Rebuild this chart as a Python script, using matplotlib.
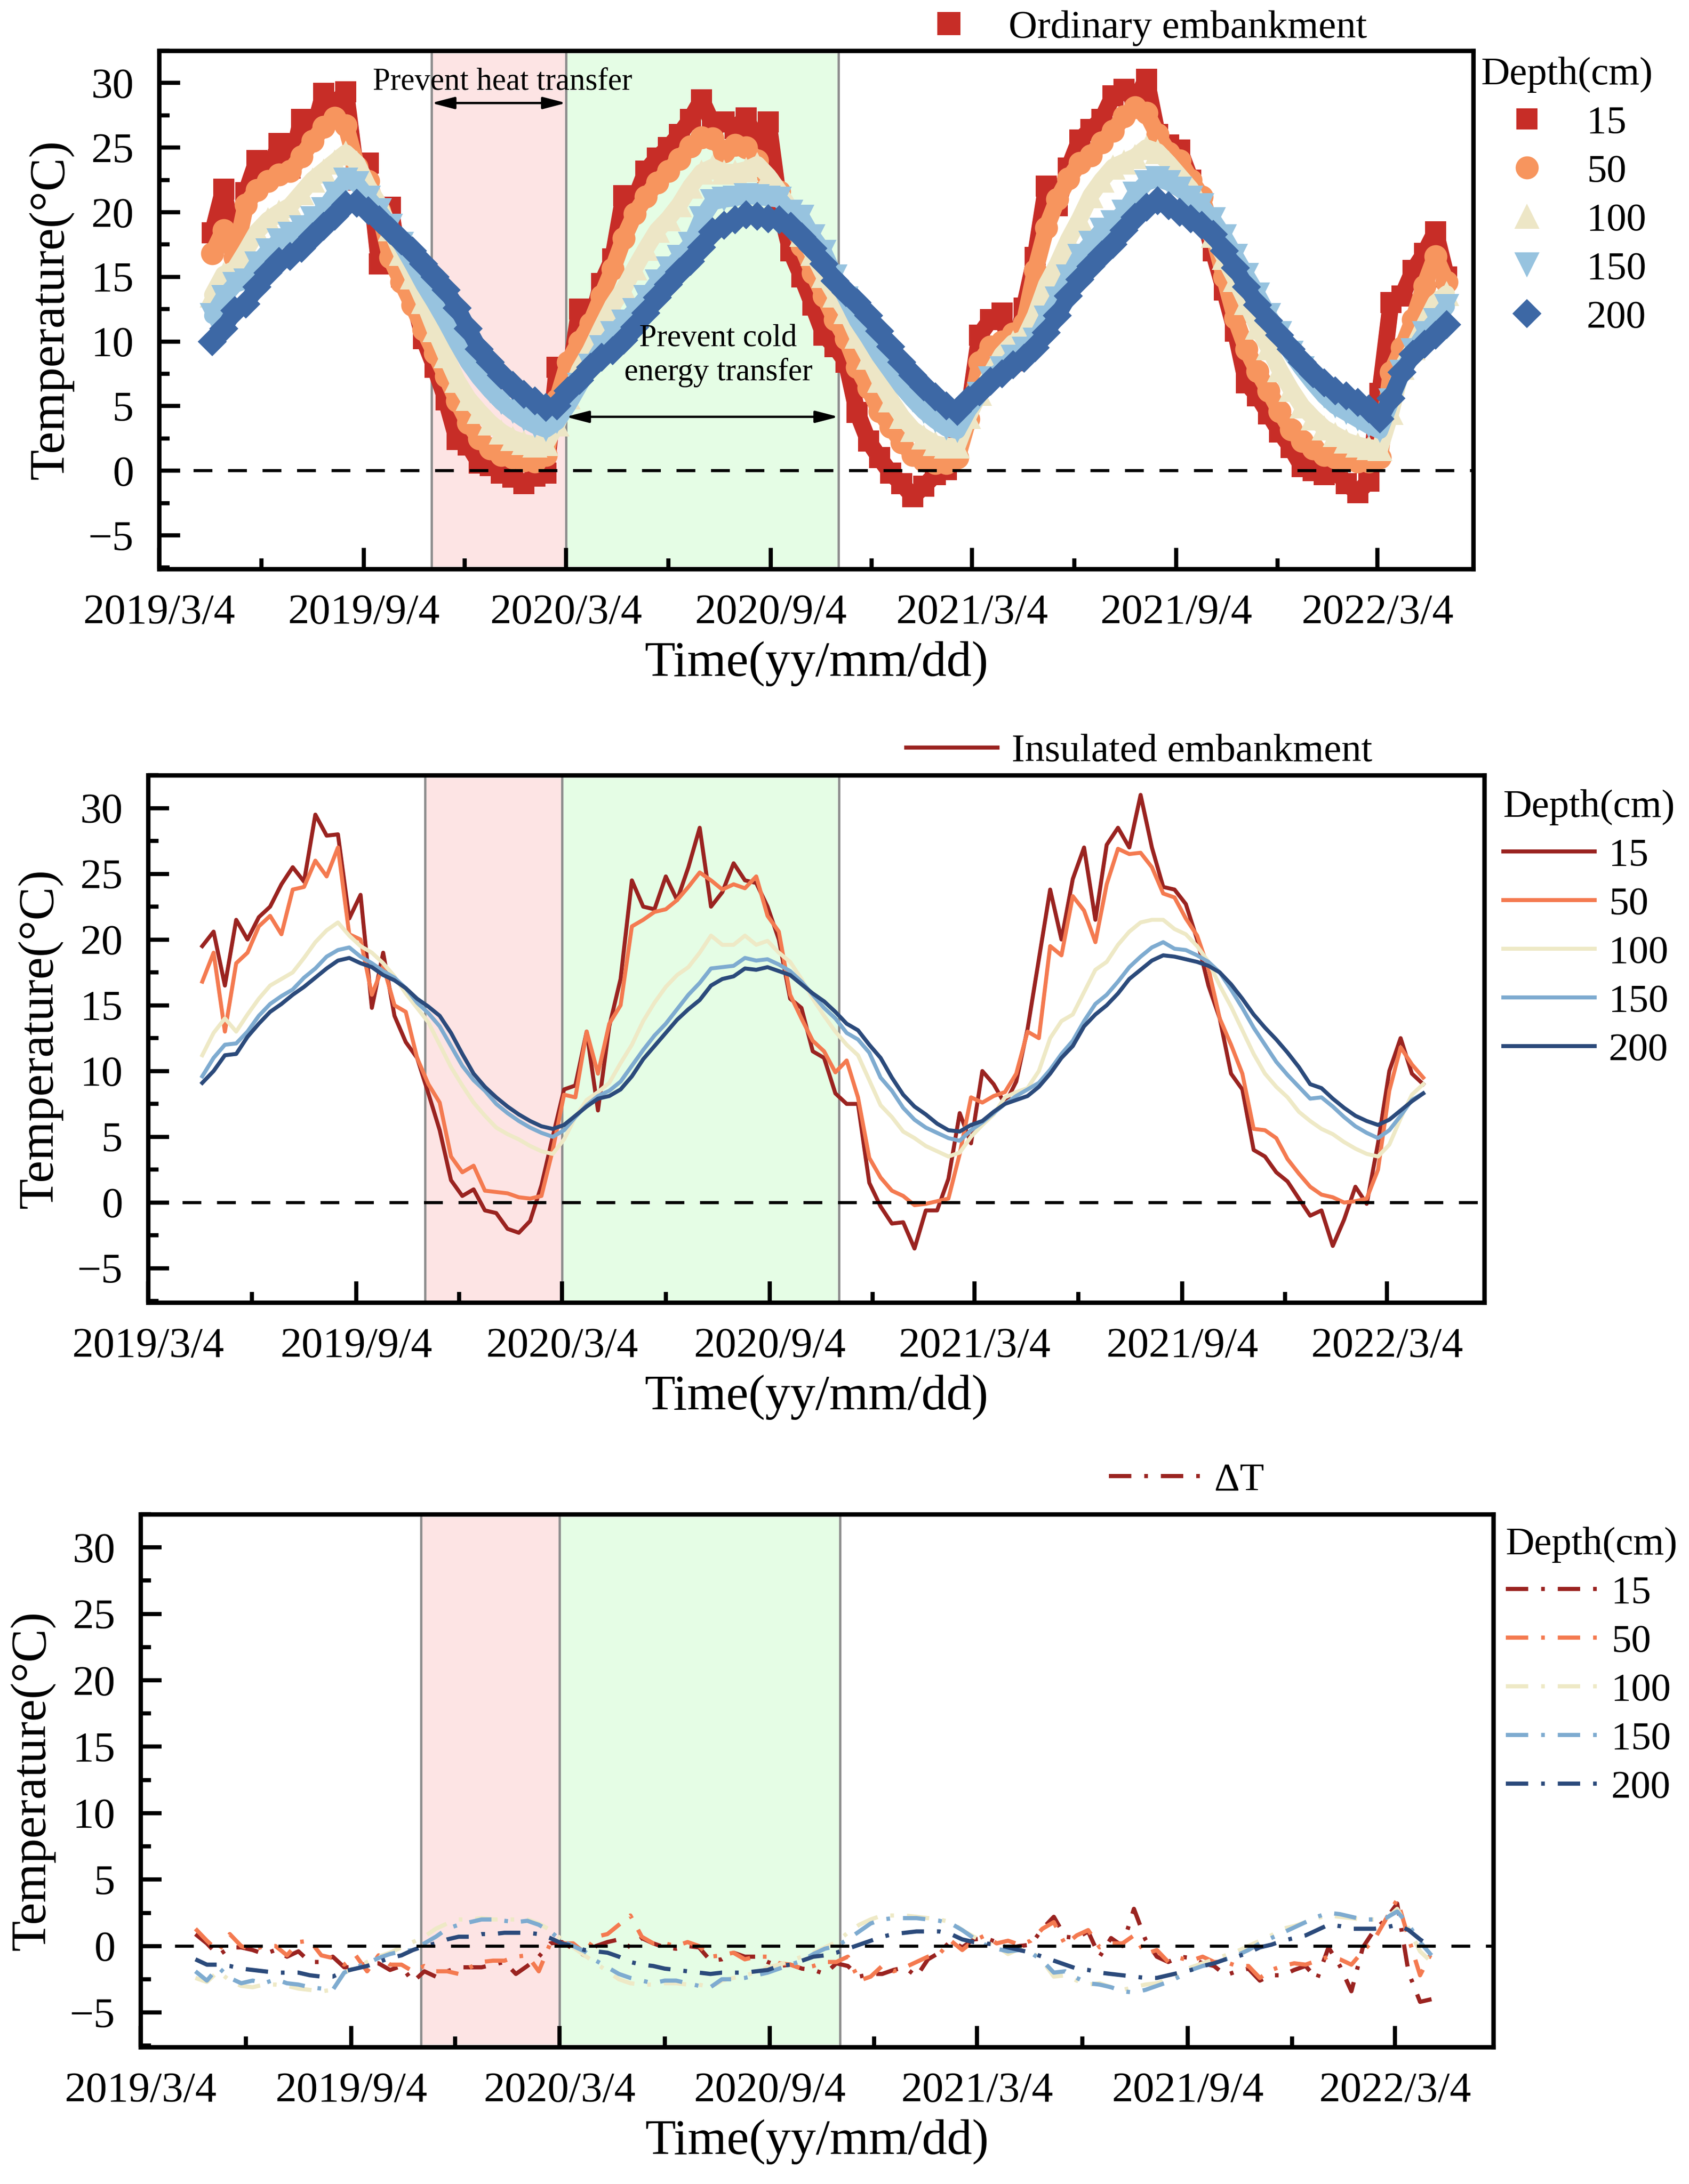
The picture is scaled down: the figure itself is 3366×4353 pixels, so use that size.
import numpy as np
import matplotlib
matplotlib.use("Agg")
import matplotlib.pyplot as plt
import matplotlib.dates as mdates
from matplotlib.lines import Line2D

plt.rcParams['font.family'] = ['Liberation Serif', 'DejaVu Serif']
plt.rcParams['axes.unicode_minus'] = True

# ---------------- data (one value every 10 days) ----------------
depths = ['15', '50', '100', '150', '200']

p1_first, p1_last = '2019-04-21', '2022-05-05'
p23_first, p23_last = '2019-04-21', '2022-04-05'

# ordinary embankment
ord_15 = [18.4, 21.8, 17.0, 21.5, 24.0, 23.0, 25.3, 23.4, 27.2, 26.0,
          29.2, 28.4, 29.3, 22.5, 23.8, 16.0, 20.4, 15.0, 13.5, 10.2,
          8.0, 5.5, 2.4, 2.0, 0.6, 0.4, -0.2, -0.5, -1.0, -0.4,
          -0.2, 8.0, 6.5, 12.5, 11.2, 14.5, 16.4, 21.3, 21.0, 23.2,
          24.2, 25.0, 26.0, 27.2, 28.7, 26.8, 27.0, 26.5, 27.3, 25.5,
          27.0, 20.5, 17.0, 15.0, 12.8, 10.5, 9.6, 8.4,
          4.5, 2.3, 1.0, -0.2, -1.0, -2.0, -1.2, -0.3, 0.1, 3.0,
          4.5, 10.5, 11.7, 12.2, 8.5, 12.6, 16.5, 22.0, 20.5, 23.4,
          25.6, 26.4, 27.2, 29.0, 29.5, 28.6, 30.3, 26.0, 25.2, 24.8,
          22.5, 20.0, 17.0, 14.0, 10.8, 6.8, 5.8, 4.4, 3.0, 1.8,
          0.3, 0.0, -0.3, 0.0, -1.0, -1.7, -0.8, 6.0, 13.0, 13.5,
          15.5, 16.8, 18.5, 15.0]
ord_50 = [16.8, 18.6, 16.5, 20.6, 21.7, 22.4, 22.9, 23.2, 24.3, 25.5,
          26.6, 27.3, 26.7, 23.5, 22.4, 20.1, 16.5, 14.6, 12.8, 10.9,
          9.1, 7.3, 5.4, 3.7, 2.5, 1.7, 1.2, 1.0, 0.8, 0.7,
          1.2, 5.5, 8.4, 10.0, 11.4, 13.5, 15.6, 18.0, 19.9, 21.2,
          22.3, 23.2, 24.1, 25.1, 25.8, 25.7, 24.7, 25.2, 25.0, 24.0,
          22.4, 21.6, 19.3, 17.4, 15.3, 13.5, 11.7, 10.2,
          8.0, 6.4, 4.6, 3.4, 2.2, 1.2, 0.8, 0.6, 0.6, 1.0,
          4.0, 8.4, 9.6, 10.0, 10.6, 11.4, 15.5, 18.8, 21.0, 22.6,
          23.8, 24.4, 25.4, 26.3, 27.4, 28.1, 27.7, 26.0, 24.6, 24.0,
          22.5, 21.2, 18.3, 15.0, 11.8, 9.4, 7.7, 6.2, 4.6, 3.2,
          2.3, 1.7, 1.2, 1.0, 0.8, 0.7, 0.7, 1.0, 7.6, 9.5,
          11.7, 14.3, 16.6, 14.6]
ord_100 = [13.6, 15.2, 15.6, 17.0, 18.5, 19.4, 20.0, 20.5, 21.5, 22.5,
           23.2, 23.9, 24.6, 23.8, 22.0, 20.6, 18.7, 16.8, 15.0, 13.1,
           10.9, 8.9, 7.0, 5.6, 4.6, 3.7, 3.0, 2.5, 2.2, 2.0,
           2.1, 3.6, 5.7, 7.8, 9.3, 11.1, 12.8, 14.1, 15.7, 17.2,
           18.6, 19.5, 20.6, 22.0, 23.1, 23.5, 23.1, 23.1, 23.3, 23.7,
           22.8, 21.6, 20.2, 18.3, 16.8, 15.1, 13.6, 12.3,
           10.4, 8.8, 7.0, 5.5, 4.2, 3.2, 2.6, 2.1, 1.9, 1.9,
           4.2, 6.0, 7.5, 9.0, 9.9, 10.2, 12.0, 14.4, 16.0, 17.9,
           19.5, 21.3, 22.5, 23.5, 23.9, 24.3, 25.0, 24.7, 23.8, 22.8,
           21.8, 20.2, 18.2, 16.5, 14.8, 13.0, 11.1, 9.5, 7.8, 6.3,
           5.0, 4.1, 3.3, 2.8, 2.3, 2.0, 1.8, 1.7, 4.5, 8.0,
           9.5, 11.3, 13.0, 13.7]
ord_150 = [12.0, 13.4, 14.4, 14.7, 16.0, 17.0, 17.8, 18.3, 18.8, 19.5,
           20.2, 21.4, 22.5, 22.2, 21.1, 20.1, 18.9, 17.5, 16.0, 14.4,
           13.0, 11.5, 9.9, 8.4, 7.2, 6.2, 5.3, 4.6, 4.0, 3.5,
           3.2, 3.8, 5.1, 6.6, 8.1, 9.5, 10.6, 11.5, 12.4, 13.4,
           14.6, 15.6, 16.5, 17.5, 19.5, 20.8, 21.0, 21.1, 21.3, 21.2,
           21.1, 21.0, 20.0, 19.6, 18.1, 16.9, 15.0, 13.3,
           11.6, 10.3, 8.9, 7.7, 6.5, 5.5, 4.6, 3.9, 3.3, 3.1,
           4.7, 5.9, 7.1, 7.9, 8.8, 9.4, 10.1, 11.8, 13.3, 15.0,
           16.6, 17.6, 18.6, 19.2, 20.0, 21.4, 22.3, 22.6, 22.3, 21.8,
           21.1, 20.5, 19.4, 18.1, 16.6, 15.1, 13.6, 12.0, 10.6, 9.1,
           7.9, 6.8, 5.8, 5.0, 4.5, 4.0, 3.5, 3.1, 5.4, 7.6,
           9.3, 10.6, 11.6, 12.7]
ord_200 = [10.0, 11.0, 12.4, 12.9, 14.2, 15.3, 16.2, 16.6, 17.2, 18.1,
           18.9, 19.7, 20.6, 20.7, 20.1, 19.4, 18.6, 17.8, 17.0, 16.0,
           15.0, 14.0, 12.6, 11.0, 9.4, 8.4, 7.4, 6.6, 5.9, 5.4,
           4.9, 5.0, 6.2, 7.0, 8.0, 8.8, 9.3, 10.1, 11.1, 12.2,
           13.4, 14.4, 15.4, 16.2, 17.3, 18.5, 19.0, 19.4, 19.8, 19.7,
           19.5, 19.4, 18.9, 18.1, 17.2, 16.0, 14.7, 13.8,
           13.0, 12.0, 10.8, 9.6, 8.4, 7.4, 6.5, 5.7, 5.0, 4.6,
           5.5, 6.1, 6.9, 7.5, 8.2, 8.7, 9.5, 10.7, 12.0, 13.5,
           14.8, 15.8, 16.7, 17.5, 18.6, 19.6, 20.4, 20.9, 20.5, 20.0,
           19.5, 19.0, 18.3, 17.0, 15.7, 14.2, 12.8, 11.6, 10.5, 9.4,
           8.4, 7.5, 6.8, 6.2, 5.8, 5.3, 4.8, 4.0, 5.6, 7.6,
           9.0, 9.8, 10.5, 11.3]

# insulated embankment
ins_15 = [19.5, 20.6, 16.5, 21.5, 20.0, 21.7, 22.5, 24.2, 25.5, 24.4,
          29.5, 27.9, 28.0, 21.6, 23.4, 14.8, 19.0, 14.2, 12.2, 11.0,
          8.3, 5.5, 1.7, 0.5, 1.0, -0.6, -0.8, -2.0, -2.3, -1.4,
          1.3, 5.0, 8.6, 8.9, 13.0, 7.0, 13.4, 17.0, 24.5, 22.5,
          22.3, 24.8, 23.0, 25.5, 28.5, 22.5, 23.6, 25.8, 24.5, 24.3,
          22.5, 20.0, 15.5, 14.8, 11.5, 11.0, 8.3, 7.5,
          7.5, 1.5, -0.3, -1.6, -1.5, -3.5, -0.6, -0.6, 1.8, 6.8,
          4.5, 10.0, 9.0, 7.5, 9.2, 13.2, 18.5, 23.8, 20.0, 24.6,
          27.0, 21.5, 27.2, 28.5, 27.0, 31.0, 27.0, 24.0, 23.8, 22.7,
          20.0, 16.5, 14.0, 9.8, 8.6, 4.0, 3.5, 2.3, 1.6, 0.3,
          -1.0, -0.6, -3.3, -1.3, 1.2, -0.1, 4.5, 10.0, 12.5, 9.8,
          9.0]
ins_50 = [16.8, 19.0, 13.0, 18.2, 19.0, 21.0, 21.8, 20.4, 23.8, 24.0,
          26.0, 24.8, 27.0, 20.4, 20.0, 15.8, 18.0, 15.0, 14.5, 11.0,
          9.0, 7.6, 3.5, 2.3, 2.8, 0.9, 0.8, 0.7, 0.4, 0.3,
          0.5, 4.0, 8.2, 8.0, 13.0, 9.8, 13.6, 15.0, 21.0, 21.5,
          22.1, 22.3, 23.0, 24.0, 25.1, 24.5, 23.8, 24.2, 23.9, 24.8,
          21.8, 20.6, 15.8, 14.0, 12.3, 11.5, 9.9, 10.8,
          8.0, 3.4, 1.9, 0.9, 0.5, -0.2, -0.1, 0.1, 0.3, 3.7,
          8.0, 7.6, 8.1, 8.4, 9.8, 13.0, 12.5, 19.5, 18.8, 23.3,
          22.2, 19.8, 24.2, 26.9, 26.5, 26.6, 25.5, 23.5, 23.2, 21.6,
          20.3, 17.8, 14.0, 12.0, 9.8, 5.6, 5.5, 4.9, 3.3, 2.2,
          1.2, 0.6, 0.4, 0.0, 0.1, 0.3, 2.5, 8.5, 11.8, 10.5,
          9.5]
ins_100 = [11.2, 12.9, 14.0, 13.0, 14.3, 15.5, 16.5, 17.0, 17.5, 18.6,
           19.8, 20.7, 21.3, 20.3, 19.5, 19.0, 18.2, 17.2, 15.9, 14.8,
           13.7, 12.0, 10.3, 8.9, 7.6, 6.6, 5.7, 5.2, 4.8, 4.3,
           3.9, 3.7, 4.8, 6.5, 7.8, 8.4, 9.1, 10.6, 12.0, 13.8,
           15.2, 16.4, 17.3, 17.9, 19.0, 20.3, 19.6, 19.6, 20.3, 19.6,
           19.9, 19.0, 18.3, 17.0, 15.5, 14.2, 13.0, 12.0,
           11.2, 9.3, 7.4, 6.5, 5.4, 4.9, 4.3, 3.9, 3.5, 3.8,
           5.0, 5.9, 6.7, 8.0, 8.4, 8.7, 10.0, 12.5, 13.8, 14.3,
           16.0, 17.7, 18.3, 19.6, 20.6, 21.3, 21.5, 21.5, 20.8, 20.4,
           19.5, 18.3, 16.5, 14.9, 13.1, 11.3, 9.8, 8.8, 8.0, 6.9,
           6.2, 5.6, 5.2, 4.6, 4.1, 3.7, 3.5, 4.4, 6.4, 8.2,
           9.0]
ins_150 = [9.6, 11.0, 12.0, 12.1, 13.0, 14.2, 15.1, 15.7, 16.2, 17.1,
           17.8, 18.7, 19.2, 19.4, 18.7, 18.2, 17.6, 17.1, 16.3, 15.2,
           14.4, 13.4, 11.9, 10.4, 9.3, 8.5, 7.5, 6.8, 6.2, 5.7,
           5.3, 5.0, 5.5, 6.5, 7.4, 8.1, 8.5, 9.2, 10.4, 11.6,
           12.7, 13.6, 14.7, 15.8, 16.7, 17.8, 17.9, 18.0, 18.6, 18.4,
           18.5, 18.1, 17.6, 16.8, 15.8, 14.8, 14.0, 12.9,
           12.4, 11.4, 9.5, 8.5, 7.2, 6.3, 5.7, 5.3, 4.9, 4.7,
           5.5, 6.1, 6.8, 7.5, 8.1, 8.6, 9.1, 10.1, 11.3, 12.3,
           13.8, 15.1, 15.8, 16.8, 17.9, 18.7, 19.4, 19.8, 19.3, 19.2,
           18.8, 18.3, 17.5, 16.2, 14.8, 13.3, 12.0, 10.7, 9.7, 8.8,
           7.9, 8.0, 7.3, 6.5, 5.8, 5.3, 4.9, 5.5, 6.6, 7.8,
           8.3]
ins_200 = [9.1, 10.0, 11.2, 11.3, 12.6, 13.6, 14.5, 15.1, 15.8, 16.4,
           17.1, 17.8, 18.4, 18.6, 18.2, 17.9, 17.3, 16.9, 16.3, 15.5,
           14.9, 14.2, 12.9, 11.3, 9.8, 8.8, 8.0, 7.3, 6.7, 6.2,
           5.8, 5.6, 5.9, 6.6, 7.3, 7.9, 8.1, 8.6, 9.6, 10.9,
           11.9, 12.9, 13.9, 14.7, 15.4, 16.5, 17.0, 17.2, 17.8, 17.7,
           17.9, 17.6, 17.3, 16.6, 15.9, 15.3, 14.5, 13.6,
           13.1, 12.0, 11.0, 9.5, 8.2, 7.3, 6.7, 6.0, 5.5, 5.4,
           5.9, 6.2, 6.9, 7.5, 7.8, 8.1, 8.8, 9.8, 11.0, 11.9,
           13.4, 14.3, 15.0, 15.9, 17.0, 17.7, 18.4, 18.8, 18.7, 18.5,
           18.3, 18.0, 17.5, 16.6, 15.5, 14.3, 13.3, 12.4, 11.4, 10.3,
           9.0, 8.7, 7.9, 7.2, 6.6, 6.2, 5.9, 6.3, 7.0, 7.7,
           8.3]

# temperature difference (insulated - ordinary)
dt_15 = [0.9, 0.2, -0.7, -0.1, -0.1, -0.3, -0.6, -0.3, -0.8, -0.4,
         -1.2, -1.2, -0.8, -1.6, -1.6, -1.3, -1.3, -1.8, -1.5, -2.7,
         -1.9, -2.3, -1.9, -1.6, -1.6, -1.6, -1.4, -1.2, -2.1, -1.5,
         -0.8, 0.2, 0.3, -0.2, -0.7, 0.0, 0.3, 0.5, -0.1, 0.6,
         0.2, -0.1, -0.2, 0.0, -0.1, -1.1, -1.0, -0.5, -0.8, -0.8,
         -1.2, -1.5, -1.4, -1.7, -1.8, -2.1, -1.3, -1.5,
         -2.3, -2.1, -2.1, -1.8, -1.6, -2.3, -1.0, -0.5, 0.4, -0.1,
         0.5, 0.6, 0.3, -0.2, 0.0, 0.1, 1.3, 2.2, 0.7, 0.6,
         1.1, -0.8, 0.6, 0.0, 2.8, 0.5, -0.8, -1.2, -0.8, -0.9,
         -1.3, -1.5, -2.2, -1.9, -1.7, -2.6, -2.2, -2.2, -1.8, -1.5,
         -2.5, -0.1, -1.5, -3.4, -0.1, 1.2, 2.0, 3.2, -2.0, -4.2,
         -4.0]
dt_50 = [1.3, 0.4, -0.4, 0.9, 0.0, -0.3, 0.0, 0.0, -0.7, 0.3,
         0.4, -0.7, -0.9, -1.4, -0.7, -1.9, -0.7, -1.4, -1.4, -1.9,
         -1.5, -1.9, -1.9, -2.1, -1.6, -1.2, -1.1, -1.1, -0.8, -0.7,
         -1.9, 0.2, 0.2, 0.2, -0.5, 0.7, 0.9, 1.6, 2.3, 0.7,
         0.2, 0.2, 0.0, 0.3, 0.0, -0.8, -0.7, -0.5, -1.0, -0.8,
         -0.8, -1.3, -1.4, -1.7, -1.5, -1.2, -1.2, -0.8,
         -2.6, -2.3, -1.5, -1.9, -1.6, -1.2, -0.8, -0.6, 0.4, -0.3,
         0.4, 0.8, 0.2, 0.4, 0.1, 0.4, 1.3, 1.8, 0.1, 0.8,
         1.2, -0.1, 0.2, 0.2, 0.8, -0.6, -0.3, -1.2, -0.9, -1.1,
         -0.8, -1.2, -1.2, -1.5, -1.5, -2.4, -1.8, -1.5, -1.3, -1.4,
         -1.1, -0.8, -1.0, -1.4, -0.4, 0.5, 2.0, 3.5, 0.6, -2.2,
         -0.5]
dt_100 = [-2.4, -2.7, -1.9, -2.6, -3.0, -3.1, -2.9, -2.9, -3.0, -3.2,
          -3.3, -3.4, -3.3, -2.0, -1.6, -1.2, -0.8, -0.5, -0.1, 0.3,
          0.7, 1.3, 1.7, 2.0, 2.0, 2.1, 2.0, 2.0, 2.0, 2.0,
          1.7, 1.2, 0.5, -0.1, -0.7, -1.3, -1.9, -2.5, -2.8, -2.9,
          -2.9, -2.8, -2.8, -2.9, -2.9, -3.1, -2.6, -2.4, -2.2, -2.0,
          -1.6, -1.4, -1.1, -0.8, -0.5, -0.1, 0.3, 1.0,
          1.6, 2.0, 2.3, 2.3, 2.3, 2.2, 2.1, 2.0, 1.8, 1.2,
          0.7, 0.3, 0.0, -0.6, -0.2, -0.4, -1.1, -2.3, -2.2, -2.6,
          -2.9, -2.8, -3.1, -3.3, -3.1, -2.9, -2.8, -2.5, -2.0, -1.6,
          -1.3, -1.0, -0.7, -0.4, 0.0, 0.4, 0.8, 1.3, 1.5, 1.8,
          2.1, 2.3, 2.2, 2.1, 2.0, 2.0, 2.0, 2.8, 1.3, -0.4,
          -1.2]
dt_150 = [-1.9, -2.6, -1.6, -2.4, -2.8, -2.6, -2.8, -2.5, -2.8, -2.9,
          -3.1, -3.2, -3.3, -2.0, -1.6, -1.3, -0.9, -0.6, -0.4, -0.3,
          0.2, 0.7, 1.3, 1.6, 1.8, 2.0, 2.0, 1.9, 1.8, 1.9,
          1.6, 1.1, 0.4, 0.0, -0.4, -1.1, -1.6, -2.1, -2.4, -2.6,
          -2.8, -2.6, -2.6, -2.8, -3.0, -3.1, -2.5, -2.5, -2.4, -2.2,
          -2.0, -1.7, -1.4, -1.1, -0.6, -0.2, 0.0, 0.5,
          1.1, 1.7, 2.0, 2.1, 2.1, 2.1, 2.0, 1.9, 1.7, 1.2,
          0.6, 0.1, -0.2, -0.4, -0.3, -0.5, -1.1, -2.0, -1.9, -2.4,
          -2.8, -2.9, -3.1, -3.4, -3.5, -3.3, -3.0, -2.7, -2.3, -1.8,
          -1.5, -1.3, -1.0, -0.7, -0.3, 0.2, 0.6, 1.0, 1.4, 1.8,
          2.2, 2.5, 2.4, 2.2, 2.0, 2.0, 2.1, 2.6, 1.6, 0.3,
          -0.7]
dt_200 = [-1.0, -1.4, -1.4, -1.5, -1.7, -1.8, -1.9, -2.0, -2.0, -2.0,
          -2.2, -2.3, -2.3, -1.9, -1.7, -1.5, -1.2, -0.9, -0.7, -0.3,
          0.0, 0.2, 0.5, 0.7, 0.7, 0.9, 0.9, 1.0, 1.0, 1.0,
          0.9, 0.6, 0.2, 0.0, -0.3, -0.4, -0.5, -0.8, -1.2, -1.4,
          -1.5, -1.7, -1.8, -1.9, -2.0, -2.1, -2.0, -2.0, -2.0, -1.9,
          -1.8, -1.5, -1.4, -1.1, -0.8, -0.7, -0.5, -0.2,
          0.1, 0.4, 0.7, 0.9, 1.0, 1.1, 1.1, 1.1, 0.9, 0.5,
          0.3, 0.2, 0.1, -0.1, -0.3, -0.5, -0.8, -1.1, -1.4, -1.7,
          -1.8, -2.0, -2.1, -2.2, -2.3, -2.4, -2.4, -2.2, -2.0, -1.8,
          -1.5, -1.3, -1.0, -0.8, -0.5, -0.1, 0.1, 0.4, 0.6, 0.8,
          1.2, 1.6, 1.5, 1.3, 1.3, 1.3, 1.4, 1.6, 1.2, 0.5,
          -0.1]

x_range = ('2019-03-04', '2022-05-29')
major_dates = ['2019-03-04', '2019-09-04', '2020-03-04', '2020-09-04',
               '2021-03-04', '2021-09-04', '2022-03-04']
major_labels = ['2019/3/4', '2019/9/4', '2020/3/4', '2020/9/4',
                '2021/3/4', '2021/9/4', '2022/3/4']
minor_dates = ['2019-06-04', '2019-12-04', '2020-06-04', '2020-12-04',
               '2021-06-04', '2021-12-04']
heat_span = ('2019-11-04', '2020-03-04')
cold_span = ('2020-03-04', '2020-11-04')

# ---------------- styles ----------------
ord_colors = ['#c72d27', '#f7955e', '#ede6c6', '#97c3df', '#3d68a5']
ins_colors = ['#9a2320', '#f47a50', '#eee9c6', '#7eabd0', '#2b4a7b']
ord_markers = ['s', 'o', '^', 'v', 'D']
ord_msizes = [10, 11, 12, 12, 10]
dashdot = (0, (5.35, 3.1, 0.87, 3.1))

FS_TICK = 20.5
FS_LABEL = 24
FS_LEG = 19
W, H = 3366, 4353


def D(s):
    return np.datetime64(s)


def dates(first, last):
    return np.arange(D(first), D(last) + np.timedelta64(1, 'D'), np.timedelta64(10, 'D'))


def fx(px):
    return px / W


def fy(py):
    return 1 - py / H


def style_axes(ax):
    ax.set_xlim(D(x_range[0]), D(x_range[1]))
    ax.set_ylim(-7.6, 32.5)
    ax.set_xticks([D(s) for s in major_dates])
    ax.set_xticklabels(major_labels)
    ax.set_xticks([D(s) for s in minor_dates], minor=True)
    ax.set_yticks(np.arange(-5, 31, 5))
    ax.set_yticks(np.arange(-7.5, 32.6, 5), minor=True)
    ax.tick_params(which='major', direction='in', length=10, width=2,
                   labelsize=FS_TICK, pad=12, top=False, right=False)
    ax.tick_params(which='minor', direction='in', length=5, width=2,
                   top=False, right=False)
    for sp in ax.spines.values():
        sp.set_linewidth(2.1)
    ax.set_xlabel('Time(yy/mm/dd)', fontsize=FS_LABEL, labelpad=4)
    ax.set_ylabel('Temperature(°C)', fontsize=FS_LABEL, labelpad=7)
    ax.axvspan(D(heat_span[0]), D(heat_span[1]), color='#fde4e4', zorder=0, lw=0)
    ax.axvspan(D(cold_span[0]), D(cold_span[1]), color='#e5fde5', zorder=0, lw=0)
    for s in (heat_span[0], heat_span[1], cold_span[1]):
        ax.axvline(D(s), color='#8c8c8c', lw=1.1, zorder=0.5)
    ax.axhline(0, color='k', lw=1.5, dashes=(6, 5), zorder=5)


def add_legends(ax, handles, top_handle, top_label, top_xy, depth_xy):
    top = ax.legend([top_handle], [top_label], loc='center left',
                    bbox_to_anchor=(fx(top_xy[0]), fy(top_xy[1])),
                    bbox_transform=fig.transFigure, frameon=False,
                    fontsize=FS_LEG, handlelength=2.3, handletextpad=0.35,
                    borderpad=0, borderaxespad=0)
    ax.add_artist(top)
    ax.legend(handles, depths, title='Depth(cm)', loc='upper left',
              bbox_to_anchor=(fx(depth_xy[0]), fy(depth_xy[1])),
              bbox_transform=fig.transFigure, frameon=False,
              fontsize=FS_LEG, title_fontsize=FS_LEG, handlelength=2.3,
              handletextpad=0.35, labelspacing=0.31, borderpad=0,
              borderaxespad=0, alignment='left')


fig = plt.figure(figsize=(W / 300, H / 300), dpi=300)
ax1 = fig.add_axes([fx(317), fy(1134), fx(2936 - 317), (1134 - 101) / H])
ax2 = fig.add_axes([fx(295), fy(2596), fx(2958 - 295), (2596 - 1545) / H])
ax3 = fig.add_axes([fx(280), fy(4080), fx(2976 - 280), (4080 - 3018) / H])

# ---------------- panel 1: ordinary embankment ----------------
t1 = dates(p1_first, p1_last)
style_axes(ax1)
h1 = []
for vals, c, m, ms in zip([ord_15, ord_50, ord_100, ord_150, ord_200],
                          ord_colors, ord_markers, ord_msizes):
    ax1.plot(t1, vals, color=c, lw=8, solid_joinstyle='round',
             solid_capstyle='round', zorder=2)
    h, = ax1.plot(t1, vals, ls='none', marker=m, ms=ms, color=c, mec=c,
                  mew=0, zorder=2)
    h1.append(h)
add_legends(ax1, h1, Line2D([], [], ls='none', marker='s', ms=10, color=ord_colors[0]),
            'Ordinary embankment', (1800, 56), (2952, 113))

# annotations
x_h0, x_h1 = mdates.date2num(D(heat_span[0])), mdates.date2num(D(heat_span[1]))
x_c0, x_c1 = mdates.date2num(D(cold_span[0])), mdates.date2num(D(cold_span[1]))
arrow = dict(arrowstyle='<|-|>,head_length=0.42,head_width=0.11', color='k',
             lw=1.1, mutation_scale=22, shrinkA=0, shrinkB=0)
ax1.annotate('', xy=(x_h1, 28.45), xytext=(x_h0, 28.45), arrowprops=arrow, zorder=6)
ax1.text(mdates.date2num(D('2020-01-07')), 30.05, 'Prevent heat transfer',
         ha='center', va='center', fontsize=15, zorder=6)
ax1.annotate('', xy=(x_c1, 4.17), xytext=(x_c0, 4.17), arrowprops=arrow, zorder=6)
ax1.text(mdates.date2num(D('2020-07-19')), 8.9, 'Prevent cold\nenergy transfer',
         ha='center', va='center', fontsize=15, linespacing=1.2, zorder=6)

# ---------------- panel 2: insulated embankment ----------------
t2 = dates(p23_first, p23_last)
style_axes(ax2)
h2 = []
for vals, c in zip([ins_15, ins_50, ins_100, ins_150, ins_200], ins_colors):
    h, = ax2.plot(t2, vals, color=c, lw=1.9, zorder=2)
    h2.append(h)
add_legends(ax2, h2, Line2D([], [], color=ins_colors[0], lw=1.9),
            'Insulated embankment', (1806, 1498), (2996, 1573))

# ---------------- panel 3: difference ----------------
style_axes(ax3)
h3 = []
for vals, c in zip([dt_15, dt_50, dt_100, dt_150, dt_200], ins_colors):
    h, = ax3.plot(t2, vals, color=c, lw=2.0, ls=dashdot, zorder=2)
    h3.append(h)
add_legends(ax3, h3, Line2D([], [], color=ins_colors[0], lw=2.0, ls=dashdot),
            'ΔT', (2210, 2951), (3001, 3043))

fig.savefig('out.png', dpi=300)
